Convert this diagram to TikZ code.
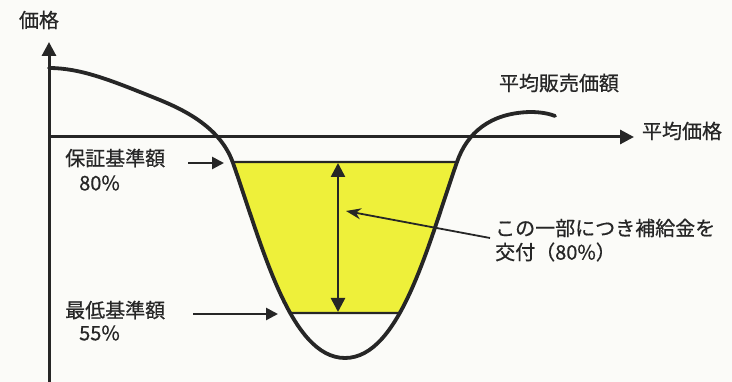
\documentclass[tikz,border=0pt]{standalone}
\usepackage{fontspec}
\setmainfont{Noto Sans CJK JP}[FakeBold=0.6]
\usetikzlibrary{arrows.meta,intersections}
\definecolor{ink}{HTML}{262626}
\definecolor{fillyellow}{HTML}{EEF03A}
\definecolor{paper}{HTML}{FBFBF8}
\begin{document}
\begin{tikzpicture}[x=1pt,y=-1pt,
  lab/.style={font=\fontsize{20}{24}\selectfont, text=ink, inner sep=0pt},
  axisline/.style={draw=ink, line width=3pt, -{Triangle[length=14pt,width=14pt]}},
  curveline/.style={draw=ink, line width=3.8pt, line cap=round},
  levelline/.style={draw=ink, line width=2.4pt},
  markarrow/.style={draw=ink, line width=2.6pt, -{Triangle[length=12pt,width=12pt]}},
  dblarrow/.style={draw=ink, line width=2.6pt, {Triangle[length=14pt,width=14pt]}-{Triangle[length=14pt,width=14pt]}},
  pointer/.style={draw=ink, line width=1.8pt, -{Stealth[length=15pt,width=11pt]}}
]
\useasboundingbox (0,0) rectangle (732,382);
\fill[paper] (0,0) rectangle (732,382);
\def\curvepath{(49,68) .. controls (80,68) and (110,80) .. (150,96)
  .. controls (175,106) and (219,123) .. (233,163)
  .. controls (262,245) and (290,358) .. (345,358)
  .. controls (400,358) and (428,245) .. (457,162)
  .. controls (467,133) and (490,113) .. (530,112)
  .. controls (542,112) and (550,114) .. (555,116)}
% yellow band
\begin{scope}
  \clip (220,162) rectangle (470,313);
  \fill[fillyellow] \curvepath -- (555,0) -- (49,0) -- cycle;
\end{scope}
% level lines
\path[name path=curve] \curvepath;
\path[name path=topl] (200,162) -- (480,162);
\path[name path=botl] (200,313) -- (480,313);
\path[name intersections={of=curve and topl, name=t}];
\path[name intersections={of=curve and botl, name=b}];
\draw[levelline] (t-1) -- (t-2);
\draw[levelline] (b-1) -- (b-2);
% axes
\coordinate (ybot) at (49,382);
\coordinate (ytip) at (49,42);
\coordinate (xorg) at (49,137);
\coordinate (xtip) at (634,137);
\draw[axisline] (ybot) -- (ytip);
\draw[axisline] (xorg) -- (xtip);
% curve
\draw[curveline] \curvepath;
% double arrow
\coordinate (dtop) at (338,163);
\coordinate (dbot) at (338,312);
\draw[dblarrow] (dtop) -- (dbot);
% labels
\node[lab] (kakaku) at (39,20) {価格};
\node[lab] (heikin) at (682,131) {平均価格};
\node[lab] (hanbai) at (559,83) {平均販売価額};
\node[lab,anchor=west] (hosho) at (65,158) {保証基準額};
\node[lab,anchor=west] (p80) at (79,183) {80\%};
\node[lab,anchor=west] (saitei) at (65,310) {最低基準額};
\node[lab,anchor=west] (p55) at (79,333) {55\%};
\node[lab,anchor=west] (note1) at (495,228) {この一部につき補給金を};
\node[lab,anchor=west] (note2) at (495,252) {交付（80\%）};
% marker arrows
\coordinate (h1) at (188,163);
\coordinate (h2) at (224,163);
\draw[markarrow] (h1) -- (h2);
\coordinate (s1) at (193,314);
\coordinate (s2) at (278,314);
\draw[markarrow] (s1) -- (s2);
% pointer
\coordinate (p1) at (490,238);
\coordinate (p2) at (346,211);
\draw[pointer] (p1) -- (p2);
\end{tikzpicture}
\end{document}
